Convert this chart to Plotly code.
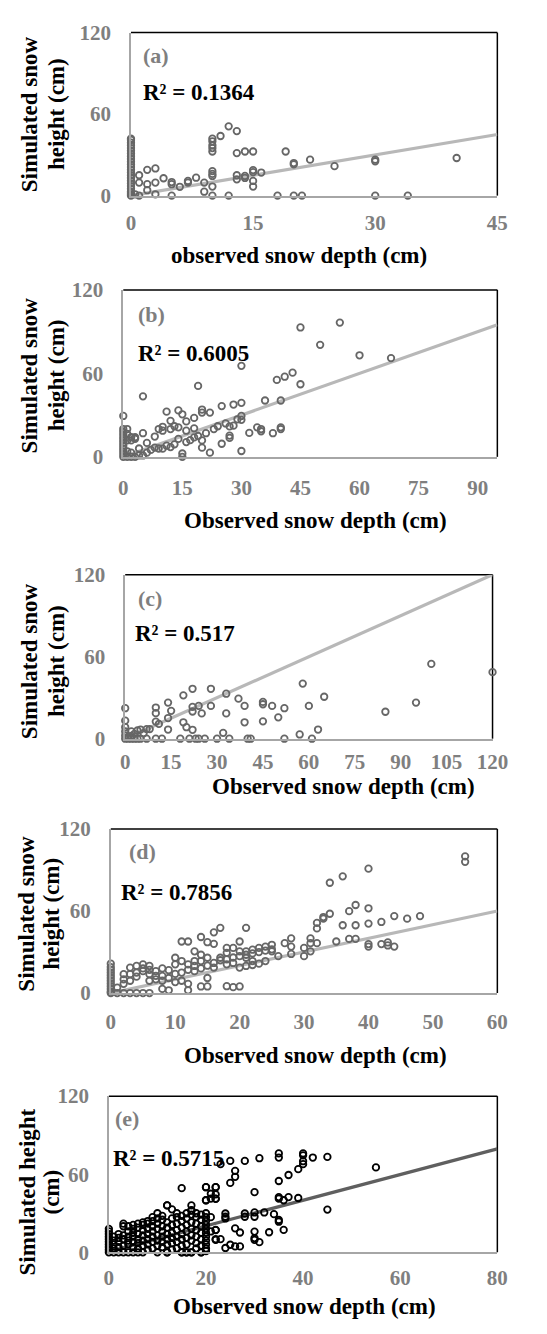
import plotly.graph_objects as go

W, H = 547, 1334

# ---------------- data ----------------
a_obs = [0, 0, 0, 0, 0, 0, 0, 0, 0, 0, 0, 0, 0, 0, 0, 0, 0, 0, 0, 0, 0, 0, 0, 0,
         0.5, 1, 1, 1, 2, 2, 2, 3, 3, 3, 4, 5, 5, 5, 6, 7, 7, 8, 9, 9,
         10, 10, 10, 10, 10, 10, 10, 10, 10, 10, 11, 12, 12, 13, 13, 13, 13,
         14, 14, 14, 15, 15, 15, 15, 15, 16,
         18, 19, 20, 20, 20, 21, 22, 25, 30, 30, 30, 34, 40]
a_sim = [0, 1, 2, 3, 5, 7, 9, 11, 13, 15, 17, 19, 21, 23, 25, 27, 29, 31, 33, 35, 37, 39, 41, 42,
         1, 9.6, 15, 0, 19, 8.4, 4, 20, 9.6, 1, 12.8, 10, 8.4, 0, 6.5, 10.8, 9.6, 13.2, 9.6, 2.9,
         42, 40, 37, 35, 32.5, 18, 16, 14.5, 6.7, 0, 43.9, 51, 0, 47.5, 31.3, 15, 12,
         32.5, 14.5, 13, 32.5, 18.8, 17.3, 10.8, 6.7, 17,
         0, 32.5, 0, 24, 23, 0, 26.5, 21.7, 26.5, 25.3, 0, 0, 27.7]

b_obs = [45, 55, 50, 60, 68, 30, 19, 5, 39, 41, 43, 45, 36, 40, 30, 28, 25, 11, 14, 15,
         20, 20, 22, 30, 30, 34, 35, 32, 38, 40, 40, 30, 27, 27, 25, 22, 15, 15, 20, 20,
         28, 27, 23, 21, 18, 18, 18, 16, 16, 16, 14, 14, 12, 12, 12, 10, 10, 10, 8, 8,
         5, 5, 3, 3, 2, 2, 2, 1, 1, 1, 0, 0, 0, 0, 0, 0, 0, 0, 0, 0,
         0, 0, 1, 3, 4, 6, 7, 9, 11, 13, 17, 19, 24, 26, 29, 35, 13, 9, 6, 4, 1, 2]
b_sim = [93, 96.5, 80.5, 73, 71, 65.4, 51, 43.5, 55.3, 57.6, 60.5, 52.2, 40.5, 40.5, 38.8, 37.6, 36.5, 32.5, 33.4, 30.6,
         31.8, 34, 31.8, 29.4, 26.6, 21.2, 18.4, 17.2, 17, 21.2, 20, 4.2, 15.3, 13.6, 9.4, 3, 2.4, 0, 6.6, 11.8,
         22.4, 21.9, 20, 17, 14, 20.5, 28, 18.8, 10.6, 25.5, 21.2, 12.9, 25.9, 20, 7, 21.6, 18.8, 5.9, 14.6, 6.6,
         17, 1, 14.1, 13, 14.1, 11.8, 0, 20, 16.5, 11.8, 29.4, 20, 18, 16, 14, 12, 10, 8, 6, 4,
         2, 0, 0, 0, 1, 3, 5, 6, 8, 9, 12, 15, 22, 24, 27, 20, 22, 20, 10, 6, 4, 3]

c_obs = [100, 120, 58, 65, 95, 85, 33, 28, 22, 19, 37, 39, 45, 45, 48, 52, 50, 45, 39, 60,
         63, 57, 61, 52, 41, 40, 34, 32, 30, 33, 28, 25, 24, 22, 22, 22, 20, 19, 18, 21,
         23, 24, 26, 14, 15, 14, 14, 10, 10, 10, 12, 10, 7, 11, 8, 7, 5, 4, 2, 0,
         0, 0, 0, 0, 0, 1, 2, 3, 4, 5, 1, 2, 3, 6]
c_sim = [54.7, 48.7, 40.3, 30.7, 26.4, 19.7, 32.9, 36.5, 36.5, 31.7, 29.3, 24, 26.9, 25.2, 24, 22.3, 15.6, 12.7, 12, 24,
         6.7, 3.1, 0, 0, 0, 0, 0, 4.3, 0, 18.5, 24, 18.5, 24, 23.3, 19.9, 6.5, 8.4, 12, 0, 0,
         0, 0, 0, 26.4, 20.4, 15.1, 6.7, 22.8, 18.7, 12.5, 0, 0, 0, 10.8, 7, 7, 6.7, 6, 5.3, 22.3,
         13.2, 8.4, 5.3, 2.4, 0, 0, 0, 0, 0, 0, 1.5, 2, 3.5, 4]

d_obs = [55, 55, 40, 36, 34, 38, 37, 40, 34, 33, 33, 32, 32, 32, 36, 38, 40, 42, 44, 46,
         48, 35, 37, 38, 40, 40, 42, 43, 43, 44, 31, 31, 30, 30, 31, 28, 28, 28, 27, 26,
         25, 25, 24, 24, 23, 23, 21, 22, 22, 22, 21, 21, 21, 20, 20, 20, 20, 19, 19, 18,
         18, 18, 18, 17, 17, 16, 16, 16, 15, 15, 15, 15, 14, 14, 14, 14, 13, 13, 13, 12,
         12, 12, 12, 11, 11, 11, 10, 10, 10, 9, 9, 8, 8, 8, 7, 7, 6, 6, 6, 5,
         5, 5, 4, 4, 4, 3, 3, 3, 2, 2, 2, 1, 0, 0, 0, 0, 0, 0, 0, 0,
         0, 0, 0, 0,
         5, 6, 4, 3, 7, 9, 10, 11, 12, 13, 14, 15, 16, 17, 19, 20, 21, 22, 23, 24,
         25, 19, 18, 2, 1, 6, 8]
d_sim = [100, 96, 91, 85.4, 80.7, 64.4, 59.9, 62, 58, 55.6, 54.4, 51.3, 47.3, 36.5, 49.6, 49.6, 50.8, 52, 56.3, 54.4,
         56.3, 37.7, 39.6, 39.6, 35.8, 34, 35.8, 37, 34.8, 34, 40, 36.5, 33, 27, 30.5, 40, 34, 28.6, 36.5, 27,
         35.3, 30.5, 34, 23.4, 33, 21.5, 47.7, 31.7, 23.4, 20.5, 30.5, 25.8, 19.8, 37.7, 30.5, 18.6, 4.8, 33, 4.3, 33,
         29.4, 24.6, 5, 47.7, 25.8, 44.4, 36, 18.6, 37.2, 25.8, 11, 4.8, 41, 28, 23.4, 4.8, 30.5, 23.4, 19.8, 37.7,
         21, 6.7, 2, 37.7, 23.4, 9, 25.8, 21, 8, 16.7, 2, 18, 12.6, 3, 16, 12.6, 19.8, 13.8, 0, 21,
         16, 0, 19.8, 15, 0, 18.6, 13.8, 0, 13.8, 6.7, 0, 0, 21.5, 19, 17, 15, 13, 11, 9, 7,
         5, 3, 1, 0,
         18, 17, 12, 9, 10, 11, 14, 15, 17, 16, 18, 20, 22, 24, 26, 27, 28, 29, 30, 31,
         32, 22, 21, 10, 4, 9, 9]

e_obs = [55, 45, 45, 42, 40, 40, 40, 40, 39, 39, 37, 37, 36, 35, 35, 35, 35, 35, 35, 35,
         36, 33, 34, 32, 31, 31, 30, 30, 30, 30, 30, 30, 28, 28, 28, 26, 26, 25, 25, 23,
         22, 22, 21, 22, 20, 20, 15, 17, 17, 12, 24, 24, 24, 24, 25, 26, 27, 26, 27, 22,
         23, 22, 19, 17, 16, 15, 12,
         0, 0, 0, 0, 0, 0, 0, 0, 0, 0, 1, 1, 1, 1, 1, 2, 2, 2, 2, 2,
         3, 3, 3, 3, 3, 3, 4, 4, 4, 4, 4, 4, 5, 5, 5, 5, 5, 5, 5, 6,
         6, 6, 6, 6, 6, 6, 7, 7, 7, 7, 7, 7, 7, 8, 8, 8, 8, 8, 8, 8,
         9, 9, 9, 9, 9, 9, 9, 10, 10, 10, 10, 10, 10, 10, 10, 11, 11, 11, 11, 11,
         11, 11, 12, 12, 12, 12, 12, 12, 12, 13, 13, 13, 13, 13, 13, 13, 14, 14, 14, 14,
         14, 14, 14, 15, 15, 15, 15, 15, 15, 15, 16, 16, 16, 16, 16, 16, 16, 17, 17, 17,
         17, 17, 17, 17, 18, 18, 18, 18, 18, 18, 18, 19, 19, 19, 19, 19, 19, 19, 20, 20,
         20, 20, 20, 20, 20, 20, 20, 20, 20, 20, 20, 21, 21, 21, 22, 22, 22, 22]
e_sim = [65.2, 73.3, 32.8, 72.8, 76, 74.5, 70, 67.7, 63.9, 41.7, 59.4, 42.4, 40, 76, 72.8, 54.8, 42.4, 41.2, 24.8, 23.5,
         17.2, 15.4, 29.3, 30.6, 72.3, 7.8, 10.9, 9.6, 15.9, 46.2, 30.6, 27.3, 70.2, 29.8, 27.3, 62.6, 58, 70.2, 53.3, 67.7,
         50, 44.5, 41.2, 41.2, 50, 40, 49.3, 36, 32.3, 36, 29.8, 27.3, 26, 3.3, 5.8, 4.5, 4.5, 18.4, 15.2, 17.2,
         10.1, 9.6, 0, 0, 0, 0, 0,
         0, 2, 4, 6, 8, 10, 12, 14, 16, 18, 0, 3, 6, 9, 12, 0, 4, 8, 11, 14,
         0, 5, 10, 13, 20, 22, 0, 6, 9, 12, 16, 20, 0, 4, 8, 12, 15, 18, 21, 0,
         3, 7, 10, 14, 19, 22, 0, 5, 9, 13, 17, 21, 23, 2, 6, 10, 14, 18, 22, 24,
         3, 8, 12, 16, 20, 24, 27, 0, 5, 9, 13, 18, 22, 26, 30, 4, 8, 12, 16, 20,
         25, 28, 0, 6, 10, 14, 19, 23, 36, 2, 7, 11, 15, 21, 26, 33, 3, 8, 12, 17,
         22, 27, 30, 0, 5, 10, 14, 19, 24, 28, 0, 6, 11, 16, 21, 26, 30, 0, 9, 13,
         18, 23, 29, 32, 3, 7, 12, 17, 22, 27, 30, 0, 5, 10, 15, 20, 25, 29, 1, 3,
         6, 9, 12, 15, 18, 21, 24, 27, 30, 40, 50, 16, 27, 45, 10, 17, 41, 50]

# fitted lines (start / end of each fitted line)
line_a = ([0, 45], [0, 45])
line_b = ([0, 95], [0, 95])
line_c = ([0, 120], [0, 120])
line_d = ([0, 60], [0, 60])
line_e = ([0, 80], [0.5, 79.5])

panel_labels = ["(a)", "(b)", "(c)", "(d)", "(e)"]
r2_labels = ["R² = 0.1364", "R² = 0.6005", "R² = 0.517", "R² = 0.7856", "R² = 0.5715"]
x_titles = ["observed snow depth (cm)", "Observed snow depth (cm)", "Observed snow depth (cm)",
            "Observed snow depth (cm)", "Observed snow depth (cm)"]
y_titles = [("Simulated snow", "height (cm)")] * 4 + [("Simulated height", "(cm)")]
x_max = [45, 95, 120, 60, 80]
x_dtick = [15, 15, 15, 10, 20]
y_max = 120
y_dtick = 60

# ---------------- layout (pixels) ----------------
# plot areas: left, right, top, bottom
boxes = [(131, 512, 21, 187), (123, 512, 283, 453), (125, 507, 573, 740),
         (110, 512, 832, 999), (108, 512, 1104, 1263)]
x_standoff = [7, 11, 3, 9, 6]
xtitle_pos = [(306, 248), (323, 518), (352, 789), (323, 1063), (311, 1318)]
ytitle_pos = [((25, 53), 104), ((25, 53), 370), ((25, 53), 661), ((22, 48), 918), ((23, 48), 1202)]
lab_pos = [(141, 44), (136, 308), (136, 597), (127, 855), (112, 1127)]
r2_pos = [(141, 82), (136, 348), (133, 633), (119, 897), (110, 1168)]

FONT = "Liberation Serif"
GRAY_TXT = "#7f7f7f"

obs_all = [a_obs, b_obs, c_obs, d_obs, e_obs]
sim_all = [a_sim, b_sim, c_sim, d_sim, e_sim]
lines_all = [line_a, line_b, line_c, line_d, line_e]
marker_col = ["#666666"] * 4 + ["#000000"]
line_col = ["#b8b8b8"] * 4 + ["#5f5f5f"]

def px(x):
    return x / W

def py(y):
    return 1 - y / H

fig = go.Figure()
annotations = []
shapes = []
layout_axes = {}

for i in range(5):
    k = "" if i == 0 else str(i + 1)
    xa, ya = "x" + k, "y" + k
    l, r, t, b = boxes[i]
    fig.add_trace(go.Scatter(
        x=lines_all[i][0], y=lines_all[i][1], mode="lines", xaxis=xa, yaxis=ya,
        line=dict(color=line_col[i], width=3.2), showlegend=False, hoverinfo="skip"))
    fig.add_trace(go.Scatter(
        x=obs_all[i], y=sim_all[i], mode="markers", xaxis=xa, yaxis=ya, cliponaxis=False,
        marker=dict(symbol="circle-open", size=6.5, color=marker_col[i],
                    line=dict(width=1.8, color=marker_col[i])),
        showlegend=False))
    layout_axes["xaxis" + k] = dict(
        domain=[px(l), px(r)], anchor=ya, range=[0, x_max[i]],
        tickmode="linear", tick0=0, dtick=x_dtick[i], showgrid=False, zeroline=False,
        showline=True, linecolor="#a6a6a6", linewidth=1.5, ticks="",
        ticklabelstandoff=x_standoff[i],
        tickfont=dict(family=FONT, size=21, color=GRAY_TXT, weight="bold"), fixedrange=True)
    layout_axes["yaxis" + k] = dict(
        domain=[py(b), py(t)], anchor=xa, range=[0, y_max],
        tickmode="linear", tick0=0, dtick=y_dtick, showgrid=False, zeroline=False,
        showline=True, linecolor="#a6a6a6", linewidth=1.5, ticks="",
        ticklabelstandoff=14,
        tickfont=dict(family=FONT, size=21, color=GRAY_TXT, weight="bold"), fixedrange=True)
    # black top & right border
    shapes.append(dict(type="line", xref="paper", yref="paper", x0=px(l), x1=px(r), y0=py(t), y1=py(t),
                       line=dict(color="black", width=1.5), layer="below"))
    shapes.append(dict(type="line", xref="paper", yref="paper", x0=px(r), x1=px(r), y0=py(t), y1=py(b),
                       line=dict(color="black", width=1.5), layer="below"))
    # titles
    annotations.append(dict(text="<b>" + x_titles[i] + "</b>", x=px(xtitle_pos[i][0]), y=py(xtitle_pos[i][1]),
                            xref="paper", yref="paper", showarrow=False, xanchor="center", yanchor="middle",
                            font=dict(family=FONT, size=23, color="black")))
    (x1, x2), yc = ytitle_pos[i]
    for txt, xx in zip(y_titles[i], (x1, x2)):
        annotations.append(dict(text="<b>" + txt + "</b>", x=px(xx), y=py(yc), textangle=-90,
                                xref="paper", yref="paper", showarrow=False, xanchor="center",
                                yanchor="middle", font=dict(family=FONT, size=23, color="black")))
    annotations.append(dict(text="<b>" + panel_labels[i] + "</b>", x=px(lab_pos[i][0]), y=py(lab_pos[i][1]),
                            xref="paper", yref="paper", showarrow=False, xanchor="left", yanchor="middle",
                            font=dict(family=FONT, size=22, color=GRAY_TXT)))
    annotations.append(dict(text="<b>" + r2_labels[i] + "</b>", x=px(r2_pos[i][0]), y=py(r2_pos[i][1]),
                            xref="paper", yref="paper", showarrow=False, xanchor="left", yanchor="middle",
                            font=dict(family=FONT, size=23, color="black")))

fig.update_layout(width=W, height=H, margin=dict(l=0, r=0, t=0, b=0),
                  paper_bgcolor="white", plot_bgcolor="white",
                  annotations=annotations, shapes=shapes, **layout_axes)

fig.write_html("out.html")
